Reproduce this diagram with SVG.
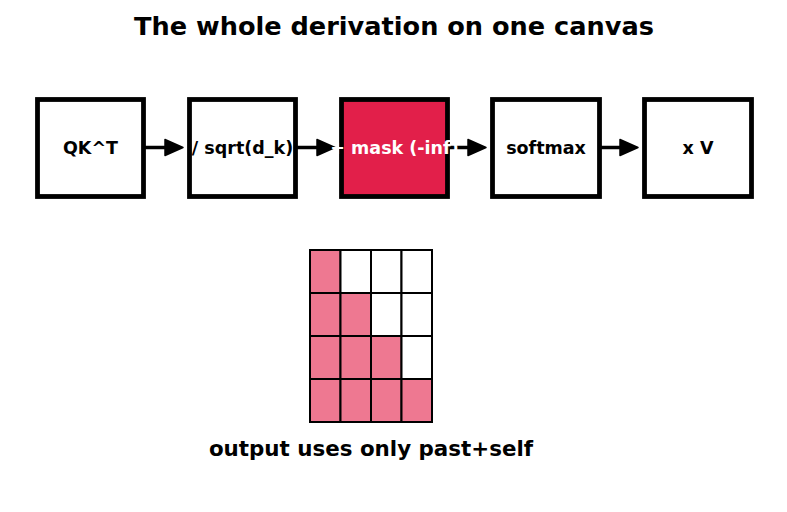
<svg xmlns="http://www.w3.org/2000/svg" width="787" height="512" viewBox="0 0 787 512">
<defs>
<style>
.box{fill:#fff;stroke:#000;stroke-width:4.8}
.lbl{font-family:"DejaVu Sans",sans-serif;font-weight:bold;font-size:17.5px;text-anchor:middle;dominant-baseline:central}
.conn{stroke:#000;stroke-width:3.5;fill:none}
.head{fill:#000;stroke:#000;stroke-width:1.5;stroke-linejoin:round}
.on{fill:#ee7891;stroke:#000;stroke-width:2}
.off{fill:#fff;stroke:#000;stroke-width:2}
</style>
</defs>
<rect width="787" height="512" fill="#fff"/>
<text x="394" y="26" font-family="DejaVu Sans,sans-serif" font-weight="bold" font-size="25.6" text-anchor="middle" dominant-baseline="central">The whole derivation on one canvas</text>
<g id="connectors">
<line class="conn" x1="145" y1="147.5" x2="166" y2="147.5"/>
<path class="head" d="M165,139.5 L183,147.5 L165,155.5 Z"/>
<line class="conn" x1="297" y1="147.5" x2="318" y2="147.5"/>
<path class="head" d="M317,139.5 L335,147.5 L317,155.5 Z"/>
<line class="conn" x1="449" y1="147.5" x2="469" y2="147.5"/>
<path class="head" d="M468,139.5 L486,147.5 L468,155.5 Z"/>
<line class="conn" x1="601" y1="147.5" x2="621" y2="147.5"/>
<path class="head" d="M620,139.5 L638,147.5 L620,155.5 Z"/>
</g>
<g id="n1"><rect class="box" x="37.5" y="99.5" width="106" height="97"/><text class="lbl" x="90.5" y="148">QK^T</text></g>
<g id="n2"><rect class="box" x="189.5" y="99.5" width="106" height="97"/><text class="lbl" x="242.5" y="148">/ sqrt(d_k)</text></g>
<g id="n3"><rect class="box" x="341.5" y="99.5" width="106" height="97" style="fill:#e21f4a"/><text class="lbl" x="394.5" y="148" fill="#fff">+ mask (-inf)</text></g>
<g id="n4"><rect class="box" x="492.5" y="99.5" width="107" height="97"/><text class="lbl" x="546" y="148">softmax</text></g>
<g id="n5"><rect class="box" x="644.5" y="99.5" width="107" height="97"/><text class="lbl" x="698" y="148">x V</text></g>
<g id="grid">
<rect class="on" x="310" y="250" width="30.5" height="43"/>
<rect class="off" x="340.5" y="250" width="30.5" height="43"/>
<rect class="off" x="371" y="250" width="30.5" height="43"/>
<rect class="off" x="401.5" y="250" width="30.5" height="43"/>
<rect class="on" x="310" y="293" width="30.5" height="43"/>
<rect class="on" x="340.5" y="293" width="30.5" height="43"/>
<rect class="off" x="371" y="293" width="30.5" height="43"/>
<rect class="off" x="401.5" y="293" width="30.5" height="43"/>
<rect class="on" x="310" y="336" width="30.5" height="43"/>
<rect class="on" x="340.5" y="336" width="30.5" height="43"/>
<rect class="on" x="371" y="336" width="30.5" height="43"/>
<rect class="off" x="401.5" y="336" width="30.5" height="43"/>
<rect class="on" x="310" y="379" width="30.5" height="43"/>
<rect class="on" x="340.5" y="379" width="30.5" height="43"/>
<rect class="on" x="371" y="379" width="30.5" height="43"/>
<rect class="on" x="401.5" y="379" width="30.5" height="43"/>
</g>
<text x="371" y="448" font-family="DejaVu Sans,sans-serif" font-weight="bold" font-size="21.4" text-anchor="middle" dominant-baseline="central">output uses only past+self</text>
</svg>
